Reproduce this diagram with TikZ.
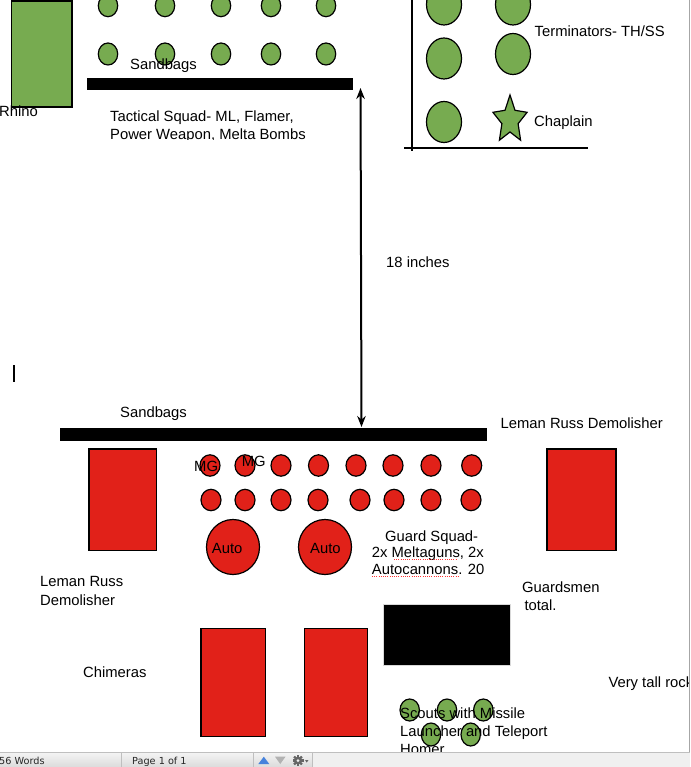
\documentclass[tikz,border=0pt]{standalone}
\usepackage{fontspec}
\setmainfont{Liberation Sans}
\newfontfamily\uifont{DejaVu Sans}
\usetikzlibrary{arrows.meta}
\definecolor{grn}{RGB}{119,171,80}
\definecolor{rd}{RGB}{225,33,25}
\definecolor{uiblue}{RGB}{70,130,220}
\begin{document}
\begin{tikzpicture}[x=1pt,y=-1pt,
  lbl/.style={anchor=base west,inner sep=0pt,font=\fontsize{14.8}{17}\selectfont},
  uilbl/.style={anchor=base west,inner sep=0pt,font=\uifont\fontsize{9.7}{11}\selectfont,text=black!85},
  gfig/.style={draw=black,line width=1.2pt,fill=grn},
  rfig/.style={draw=black,line width=1.2pt,fill=rd},
  bar/.style={fill=black,draw=none},
  spell/.style={draw=red!80,line width=0.9pt,dash pattern=on 1pt off 1.2pt},
  fence/.style={line width=2pt,draw=black}]
\useasboundingbox (0,0) rectangle (690,767);
\clip (0,0) rectangle (690,767);
\fill[white] (0,0) rectangle (690,767);

% ---------- top left: Rhino and tactical squad ----------
\draw[gfig] (11.7,1) rectangle (72,107);
\node[lbl] (rhino) at (-1,117) {Rhino};
\foreach \x in {108,165,221,271,326}{
  \draw[gfig] (\x,5.7) ellipse [x radius=9.7pt, y radius=11pt];
  \draw[gfig] (\x,54) ellipse [x radius=9.7pt, y radius=11pt];
}
\node[lbl] (sbtop) at (130,70) {Sandbags};
\fill[bar] (86.7,77.7) rectangle (353,90);
\begin{scope}
  \clip (100,100) rectangle (330,139.3);
  \node[lbl] (tac1) at (110,122) {Tactical Squad- ML, Flamer,};
  \node[lbl] (tac2) at (110,140) {Power Weapon, Melta Bombs};
\end{scope}

% ---------- top right: terminators ----------
\coordinate (vt) at (411.7,0);
\coordinate (vb) at (411.7,150.7);
\coordinate (hl) at (404,148);
\coordinate (hr) at (588,148);
\draw[fence] (vt) -- (vb);
\draw[fence] (hl) -- (hr);
\foreach \p in {(444,4.5),(513,4.5),(444,58.5),(513,54),(444,122)}{
  \draw[gfig] \p ellipse [x radius=17.5pt, y radius=20.5pt];
}
\draw[gfig,line join=miter] (510,95) -- (505,110.3) -- (492.9,112.3) -- (501.9,123.7) -- (499.4,140.2)
  -- (510,132) -- (520.6,140.2) -- (518.1,123.7) -- (527.1,112.3) -- (515,110.3) -- cycle;
\node[lbl] (term) at (534.5,37) {Terminators- TH/SS};
\node[lbl] (chap) at (534,127) {Chaplain};

% ---------- distance arrow ----------
\coordinate (atop) at (360.5,88);
\coordinate (abot) at (361.5,427);
\draw[line width=2pt,{Stealth[length=11pt,width=8.5pt]}-{Stealth[length=11pt,width=8.5pt]}] (atop) -- (abot);
\node[lbl] (dist) at (386,267) {18 inches};

% cursor mark
\coordinate (c1) at (14,365);
\coordinate (c2) at (14,381.5);
\draw[line width=1.2pt] (c1) -- (c2);

% ---------- bottom: guard ----------
\node[lbl] (sbbot) at (120,417) {Sandbags};
\fill[bar] (60,428) rectangle (487,441);
\node[lbl] (lrd1) at (500.5,428) {Leman Russ Demolisher};
\draw[rfig] (89,449) rectangle (156.7,550.7);
\draw[rfig] (547,449) rectangle (616,550.7);
\node[lbl] (lrd2a) at (40,586.5) {Leman Russ};
\node[lbl] (lrd2b) at (40,605) {Demolisher};

\foreach \x in {210,245,281,318.5,356,393,431,471.7}{
  \draw[rfig] (\x,465.5) ellipse [x radius=10pt, y radius=10.7pt];
}
\foreach \x in {211,245,281,318,360,394,431,471}{
  \draw[rfig] (\x,500) ellipse [x radius=10pt, y radius=10.7pt];
}
\node[lbl] (mg1) at (194,471.5) {MG};
\node[lbl] (mg2) at (241.7,466.5) {MG};

\draw[rfig] (233,547) ellipse [x radius=26.5pt, y radius=27.5pt];
\draw[rfig] (325,547) ellipse [x radius=26.5pt, y radius=27.5pt];
\node[lbl] (auto1) at (211.7,553) {Auto};
\node[lbl] (auto2) at (310,553) {Auto};

\node[lbl] (gs1) at (385,541) {Guard Squad-};
\node[lbl] (gs2) at (371.7,557.5) {2x Meltaguns, 2x};
\node[lbl] (gs3) at (371.7,574) {Autocannons. 20};
\coordinate (sp1a) at (394,559.5);
\coordinate (sp1b) at (457,559.5);
\coordinate (sp2a) at (372,576);
\coordinate (sp2b) at (458,576);
\draw[spell] (sp1a) -- (sp1b);
\draw[spell] (sp2a) -- (sp2b);
\node[lbl] (gs4) at (522,592) {Guardsmen};
\node[lbl] (gs5) at (524.3,610) {total.};

\draw[fill=black,draw=black!15,line width=0.8pt] (383.3,604) rectangle (510.7,665);

\node[lbl] (chim) at (83,677) {Chimeras};
\draw[rfig] (201,628.3) rectangle (265.7,736.7);
\draw[rfig] (304.3,628.3) rectangle (367.7,736.7);

\begin{scope}
  \clip (600,660) rectangle (688.5,700);
  \node[lbl] (rock) at (608.3,687) {Very tall rock};
\end{scope}

% scouts
\foreach \x in {409.7,447,483.3}{
  \draw[gfig] (\x,710) ellipse [x radius=9.7pt, y radius=11pt];
}
\foreach \x in {431,470.7}{
  \draw[gfig] (\x,734.5) ellipse [x radius=9.7pt, y radius=11.5pt];
}
\node[lbl] (sc1) at (400,718) {Scouts with Missile};
\node[lbl] (sc2) at (400,736.5) {Launcher and Teleport};
\node[lbl] (sc3) at (400,754.5) {Homer};

% page border
\coordinate (pb1) at (689,0);
\coordinate (pb2) at (689,752);
\draw[black!35,line width=1pt] (pb1) -- (pb2);

% ---------- status bar ----------
\shade[top color=black!4,bottom color=black!14] (0,752) rectangle (313,767);
\fill[black!6] (313,752) rectangle (690,767);
\draw[black!25,line width=0.8pt] (0,752) -- (690,752);
\foreach \x in {121.7,253.3,312.7}{
  \draw[black!25,line width=0.8pt] (\x,752.5) -- (\x,767);
}
\node[uilbl] (words) at (-1,764.5) {56 Words};
\node[uilbl] (page) at (132,764.5) {Page 1 of 1};
\fill[uiblue] (258.3,764) -- (269.3,764) -- (263.8,756.7) -- cycle;
\fill[black!30] (275,756.7) -- (285.5,756.7) -- (280.25,764) -- cycle;
% gear
\foreach \a in {0,45,...,315}{
  \fill[black!60,rotate around={\a:(298,760.5)}] (296.9,755) rectangle (299.1,758);
}
\fill[black!60] (298,760.5) circle [radius=3.8pt];
\fill[black!6] (298,760.5) circle [radius=1.5pt];
\fill[black!60] (305,760) -- (308.5,760) -- (306.75,762.5) -- cycle;
\end{tikzpicture}
\end{document}
